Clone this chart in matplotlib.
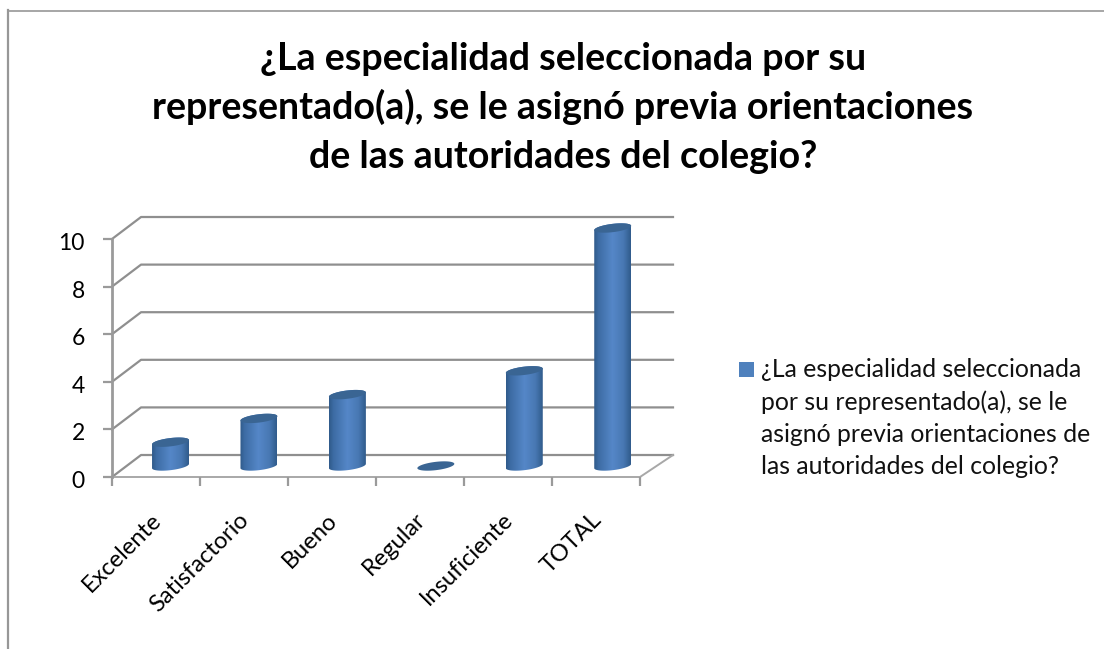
import numpy as np
import matplotlib
matplotlib.use("Agg")
import matplotlib.pyplot as plt
from matplotlib.colors import LinearSegmentedColormap
from matplotlib.lines import Line2D
from matplotlib.patches import Polygon, Rectangle
from matplotlib.transforms import ScaledTranslation

plt.rcParams['font.family'] = ['Lato', 'DejaVu Sans']

# Data
categories = ["Excelente", "Satisfactorio", "Bueno", "Regular", "Insuficiente", "TOTAL"]
values = [1, 2, 3, 0, 4, 10]
y_ticks = [0, 2, 4, 6, 8, 10]
title_lines = ["¿La especialidad seleccionada por su",
               "representado(a), se le asignó previa orientaciones",
               "de las autoridades del colegio?"]
series_name = "¿La especialidad seleccionada\npor su representado(a), se le\nasignó previa orientaciones de\nlas autoridades del colegio?"

W, H = 1104, 649
GREY = '#8f8f8f'
# depth of the fake 3d box, in data units
DX, DY = 0.33, 0.924
DX_RIGHT = 0.375
RX, RY, TILT = 0.21, 0.175, 0.09

fig = plt.figure(figsize=(W / 100, H / 100), dpi=100)
ax = fig.add_axes([112 / W, 1 - 477 / H, 528 / W, 238 / H])
ax.patch.set_alpha(0)
for s in ax.spines.values():
    s.set_visible(False)

# outer chart frame, only top and left are visible in the crop
fig.add_artist(Line2D([8 / W, 8 / W], [0, 1 - 10 / H], color='#979797', lw=1.6))
fig.add_artist(Line2D([8 / W, 1], [1 - 10.5 / H, 1 - 10.5 / H], color='#979797', lw=1.2))

x0, x1 = -0.5, len(categories) - 0.5

# walls and floor
for v in y_ticks:
    ax.plot([x0, x0 + DX, x1 + DX_RIGHT], [v, v + DY, v + DY], color=GREY, lw=1.6, clip_on=False, zorder=1)
ax.plot([x0, x1, x1 + DX_RIGHT], [0, 0, DY], color='#a8a8a8', lw=1.4, clip_on=False, zorder=1)
ax.plot([x0, x0], [0, 10], color='#9a9a9a', lw=2.0, clip_on=False, zorder=2)

cyl_cmap = LinearSegmentedColormap.from_list(
    'cyl', [(0, '#2f5a8a'), (0.12, '#3d6ca4'), (0.5, '#5587c8'), (0.8, '#4878b3'), (1, '#305b8b')])
grad = np.linspace(0, 1, 128).reshape(1, -1)
t_low = np.linspace(np.pi, 2 * np.pi, 60)
t_up = np.linspace(0, np.pi, 60)
t_all = np.linspace(0, 2 * np.pi, 120)


def ring(xc, yc, t):
    return np.column_stack([xc + RX * np.cos(t), yc + RY * np.sin(t) + TILT * np.cos(t)])


for i, v in enumerate(values):
    xc = i * 1.005 + DX / 2
    base = DY / 2
    top = v + DY / 2
    if v > 0:
        outline = np.vstack([ring(xc, base, t_low), ring(xc, top, t_up)])
        im = ax.imshow(grad, cmap=cyl_cmap, aspect='auto', zorder=3, interpolation='bilinear',
                       extent=[xc - RX, xc + RX, base - 1, top + 1])
        im.set_clip_box(fig.bbox)
        im.set_clip_path(Polygon(outline, transform=ax.transData))
    ax.add_patch(Polygon(ring(xc, top, t_all), facecolor='#3a6593', edgecolor='none', clip_on=False, zorder=4))

ax.set_xlim(x0, x1)
ax.set_ylim(0, 10)
ax.set_xticks(np.arange(x0, x1 + 1))
ax.set_xticklabels([])
ax.set_yticks(y_ticks)
ax.tick_params(axis='both', length=6.5, width=1.6, color='#9a9a9a')
ax.tick_params(axis='y', labelsize=16.5, labelcolor='black', pad=13)
nudge = ScaledTranslation(0, -2.5 / 72 * 0.72, fig.dpi_scale_trans)
for lab in ax.get_yticklabels():
    lab.set_transform(lab.get_transform() + nudge)
for i, c in enumerate(categories):
    ax.annotate(c, (i, 0), xytext=(-4, -23), textcoords='offset points', rotation=45, fontsize=17,
                ha='right', va='top', rotation_mode='anchor', annotation_clip=False)

for line, base_y in zip(title_lines, [70, 119, 168]):
    fig.text(563 / W, 1 - base_y / H, line, ha='center', va='baseline', fontsize=27.1, fontweight='bold')

# legend key sits on the first line of the wrapped label
fig.add_artist(Rectangle((739 / W, 1 - 377 / H), 15 / W, 15 / H, transform=fig.transFigure,
                         facecolor='#4f81bd', edgecolor='none'))
fig.text(761 / W, 1 - 418 / H, series_name, ha='left', va='center', fontsize=17.8, linespacing=1.49,
         color='#111111')

fig.savefig('out.png', dpi=100)
